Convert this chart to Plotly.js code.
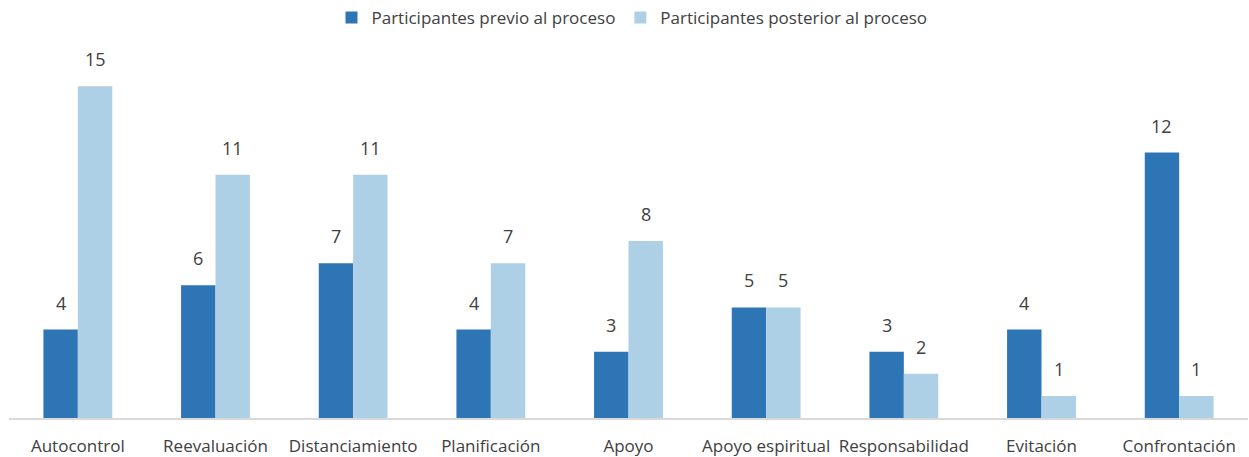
<!DOCTYPE html>
<html><head><meta charset="utf-8">
<script src="https://cdn.plot.ly/plotly-3.0.1.min.js"></script>
<style>body{margin:0;background:#fff}#c{width:1249px;height:457px}</style>
</head><body><div id="c"></div>
<script>
const categories = ["Autocontrol","Reevaluación","Distanciamiento","Planificación","Apoyo","Apoyo espiritual","Responsabilidad","Evitación","Confrontación"];
const previo = [4,6,7,4,3,5,3,4,12];
const posterior = [15,11,11,7,8,5,2,1,1];
const seriesNames = ["Participantes previo al proceso","Participantes posterior al proceso"];
const font = "Open Sans, Liberation Sans, sans-serif";
const txtColor = "#404040";
const mk = (y, name, color) => ({
  type: "bar", x: categories, y: y, name: name,
  marker: {color: color},
  hoverinfo: "skip"
});
const labels = (y, shift) => y.map((v, i) => ({
  x: categories[i], y: v, text: String(v), showarrow: false,
  xanchor: "center", yanchor: "bottom", xshift: shift, yshift: 13,
  font: {family: font, size: 18, color: txtColor}
}));
Plotly.newPlot("c", [mk(previo, seriesNames[0], "#2E75B6"), mk(posterior, seriesNames[1], "#AED0E7")], {
  width: 1249, height: 457,
  margin: {l: 9, r: 1, t: 53, b: 39},
  barmode: "group", bargap: 0.5, bargroupgap: 0,
  paper_bgcolor: "#fff", plot_bgcolor: "#fff",
  showlegend: true,
  legend: {orientation: "h", xref: "container", x: 0.506, xanchor: "center", y: 1.0, yref: "container", yanchor: "top",
           font: {family: font, size: 17, color: txtColor}, itemwidth: 30, traceorder: "normal"},
  xaxis: {showline: true, linecolor: "#D9D9D9", linewidth: 2, ticks: "", showgrid: false,
          ticklabelstandoff: 12,
          tickfont: {family: font, size: 17, color: txtColor}, fixedrange: true},
  yaxis: {range: [0, 16.5], visible: false, showgrid: false, zeroline: false, fixedrange: true},
  annotations: labels(previo, -17.2).concat(labels(posterior, 17.2)),
  font: {family: font}
}, {displayModeBar: false, staticPlot: true});
</script></body></html>
